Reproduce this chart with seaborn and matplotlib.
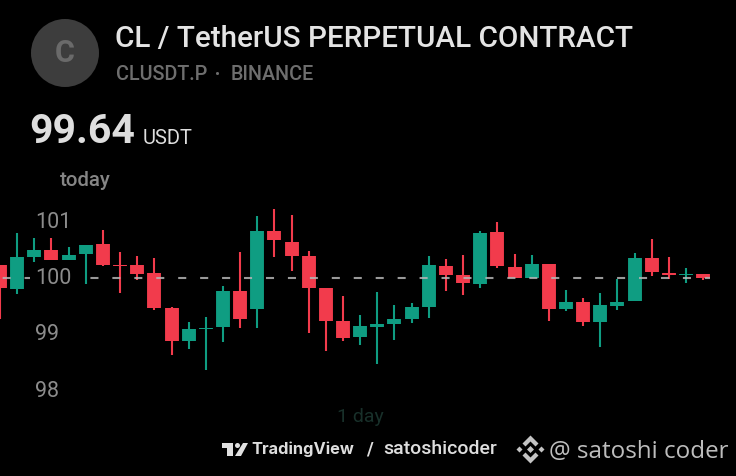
import matplotlib
matplotlib.use("Agg")
import matplotlib.pyplot as plt
from matplotlib.patches import Ellipse, Polygon
import pandas as pd
import seaborn as sns

opens = [100.20, 99.77, 100.33, 100.46, 100.28, 100.39, 100.56, 100.20, 100.20, 100.05,
         99.43, 98.85, 99.06, 99.09, 99.74, 99.42, 100.80, 100.61, 100.36, 99.78,
         99.20, 98.92, 99.10, 99.14, 99.23, 99.44, 100.18, 100.02, 99.85, 100.78,
         100.16, 99.96, 100.22, 99.41, 99.54, 99.19, 99.47, 99.56, 100.31, 100.06,
         100.02, 100.04]
closes = [99.78, 100.33, 100.46, 100.28, 100.37, 100.55, 100.19, 100.17, 100.04, 99.43,
          98.84, 99.06, 99.08, 99.74, 99.24, 100.80, 100.63, 100.36, 99.79, 99.20,
          98.90, 99.11, 99.15, 99.23, 99.44, 100.19, 100.01, 99.88, 100.77, 100.18,
          99.97, 100.22, 99.41, 99.54, 99.19, 99.48, 99.54, 100.31, 100.07, 100.01,
          100.04, 99.96]
highs = [100.20, 100.76, 100.87, 100.69, 100.52, 100.55, 100.82, 100.43, 100.36, 100.32,
         99.44, 99.19, 99.28, 99.82, 100.43, 101.07, 101.19, 101.08, 100.45, 99.78,
         99.64, 99.31, 99.72, 99.48, 99.52, 100.36, 100.30, 100.38, 100.80, 100.96,
         100.39, 100.37, 100.22, 99.75, 99.60, 99.70, 99.95, 100.40, 100.65, 100.34,
         100.14, 100.04]
lows = [99.24, 99.68, 100.25, 100.28, 100.28, 99.86, 100.18, 99.70, 99.93, 99.40,
        98.59, 98.71, 98.33, 98.82, 99.08, 99.08, 100.34, 100.09, 98.98, 98.66,
        98.85, 98.77, 98.44, 98.86, 99.16, 99.26, 99.73, 99.66, 99.79, 100.15,
        99.96, 99.96, 99.20, 99.37, 99.11, 98.74, 99.40, 99.56, 100.00, 99.95,
        99.88, 99.93]
price_ticks = [98, 99, 100, 101]
last_price = 99.965

UP = "#0f9d82"
DOWN = "#f23b4c"
W, H = 736, 476


def px(x, y):
    return x / W, 1 - y / H


def label(x, y, s, size, color, weight="normal", family="Roboto", ha="left"):
    fig.text(*px(x, y), s, fontsize=size, color=color, fontweight=weight,
             family=family, ha=ha, va="center")


sns.set_theme(style="white", rc={"axes.facecolor": "black", "figure.facecolor": "black"})
plt.rcParams["lines.scale_dashes"] = False

candles = pd.DataFrame({"i": range(len(opens)), "open": opens, "close": closes,
                        "high": highs, "low": lows})
candles["dir"] = ["up" if c >= o else "down" for o, c in zip(opens, closes)]
wicks = candles.melt(id_vars=["i", "dir"], value_vars=["high", "low"], value_name="price")
bodies = candles.melt(id_vars=["i", "dir"], value_vars=["open", "close"], value_name="price")
palette = {"up": UP, "down": DOWN}

fig = plt.figure(figsize=(7.36, 4.76), dpi=100)
ax = fig.add_axes([0, 0, 1, 1])

sns.lineplot(data=wicks, x="i", y="price", hue="dir", units="i", estimator=None,
             palette=palette, linewidth=1.5, legend=False, ax=ax, solid_capstyle="butt")
sns.lineplot(data=bodies, x="i", y="price", hue="dir", units="i", estimator=None,
             palette=palette, linewidth=10, legend=False, ax=ax, solid_capstyle="butt")

ax.axhline(last_price, xmax=710 / W, color="#b5b5b5", alpha=0.85, linewidth=1.5,
           linestyle=(13.9, (5.8, 10.0)), zorder=2.2)

ax.set_xlim(0, W / 17.15)
ax.set_ylim(96.448, 104.90)
ax.set_xlabel("")
ax.set_ylabel("")
ax.set_xticks([])
ax.set_yticks(price_ticks)
ax.set_axisbelow(False)
ax.tick_params(axis="y", length=0, pad=-25.5, labelsize=15.5, labelcolor="#8c8c8c")
for t in ax.get_yticklabels():
    t.set_ha("left")
    t.set_family("Roboto")
    t.set_bbox(dict(facecolor="black", edgecolor="none", pad=3.5))
    t.set_zorder(3)
sns.despine(ax=ax, left=True, bottom=True)

# header
fig.add_artist(Ellipse(px(65, 53), 68 / W, 68 / H, transform=fig.transFigure,
                       facecolor="#3d3d3d", edgecolor="none"))
label(65, 53, "C", 22, "#6a6a6a", "bold", ha="center")
label(115, 39, "CL / TetherUS PERPETUAL CONTRACT", 21.3, "#e4e4e4", "medium")
label(116, 75, "CLUSDT.P", 14.2, "#6e6e6e", "medium")
label(218, 75, "•", 11, "#6e6e6e", ha="center")
label(231, 75, "BINANCE", 14.2, "#6e6e6e", "medium")
label(29, 132, "99.64", 29.5, "#dedede", "bold")
label(143, 138, "USDT", 14.5, "#dedede")
label(60, 180, "today", 14.7, "#858585", "medium")
label(337, 417, "1 day", 14, "#18302a")

# footer logos
for pts in [[(222, 443), (233, 443), (233, 456), (227, 456), (227, 448), (222, 448)],
            [(243, 443), (248, 443), (241, 456), (235, 456)]]:
    fig.add_artist(Polygon([px(*p) for p in pts], transform=fig.transFigure,
                           facecolor="#e0e0e0", edgecolor="none"))
fig.add_artist(Ellipse(px(237.5, 445.5), 5 / W, 5 / H, transform=fig.transFigure,
                       facecolor="#e0e0e0", edgecolor="none"))
label(251, 449, "TradingView", 11.8, "#dedede", "bold", family="Inter")
label(366, 450, "/", 13, "#dedede", "bold")
label(383, 449, "satoshicoder", 14, "#dedede", "medium")

cx, cy = 530.5, 449.5
shapes = [[(0, -14), (8, -6), (5, -3), (0, -8), (-5, -3), (-8, -6)],
          [(0, 14), (8, 6), (5, 3), (0, 8), (-5, 3), (-8, 6)],
          [(0, -3.5), (3.5, 0), (0, 3.5), (-3.5, 0)],
          [(-11, -3), (-8, 0), (-11, 3), (-14, 0)],
          [(11, -3), (14, 0), (11, 3), (8, 0)]]
for shape in shapes:
    fig.add_artist(Polygon([px(cx + a, cy + b) for a, b in shape], transform=fig.transFigure,
                           facecolor="#c4c4c4", edgecolor="none"))
label(549, 452, "@ satoshi coder", 17.4, "#bdbdbd", family="Open Sans")

fig.savefig("out.png", dpi=100, facecolor="black")
